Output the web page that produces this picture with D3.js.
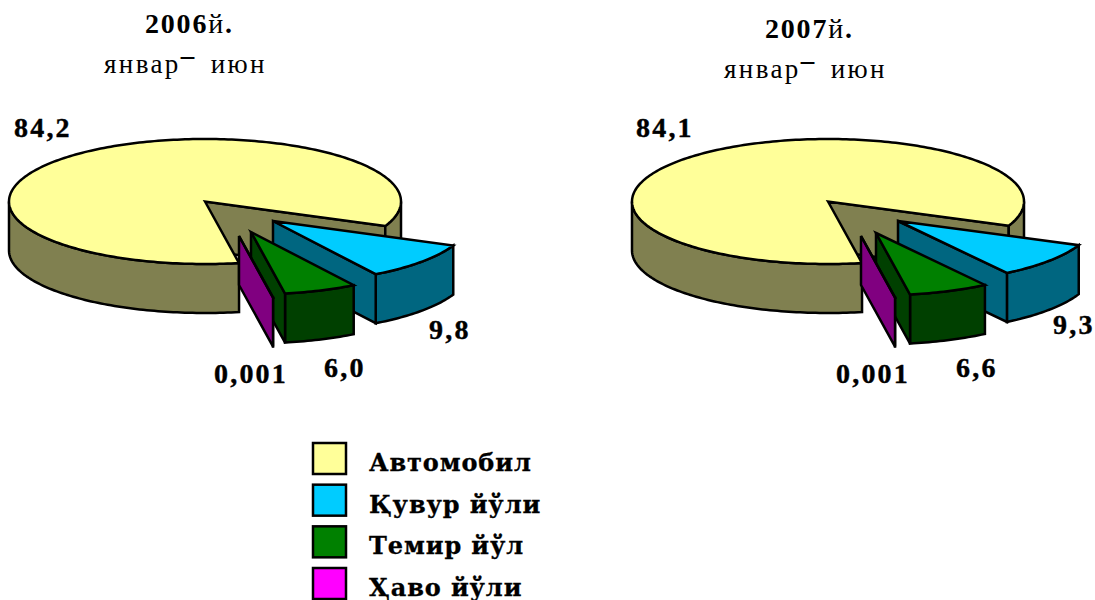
<!DOCTYPE html>
<html><head><meta charset="utf-8">
<script src="https://cdnjs.cloudflare.com/ajax/libs/d3/7.8.5/d3.min.js"></script>
<style>
html,body{margin:0;padding:0;background:#fff;overflow:hidden}
text{font-family:"Liberation Serif",serif;fill:#000}
.lab{font-weight:700;font-size:28px;letter-spacing:2.2px;stroke:#000;stroke-width:.4px}
.leg{font-family:"DejaVu Serif",serif;font-weight:700;font-size:24px;letter-spacing:.9px;stroke:#000;stroke-width:.3px}
.t1{font-weight:700;font-size:28px;letter-spacing:1.8px}
.t2{font-size:27px;letter-spacing:2.4px}
</style></head><body>
<svg id="c" width="1095" height="600"></svg>
<script>
const categories = ["Автомобил","Қувур йўли","Темир йўл","Ҳаво йўли"];
const values2006 = [84.2, 9.8, 6.0, 0.001];
const values2007 = [84.1, 9.3, 6.6, 0.001];
const labels2006 = ["84,2","9,8","6,0","0,001"];
const labels2007 = ["84,1","9,3","6,6","0,001"];
const topColors  = ["#FFFF99","#00CCFF","#008000","#800080"];
const sideColors = ["#808050","#006680","#004000","#800080"];
const legendColors = ["#FFFF99","#00CCFF","#008000","#FF00FF"];

const svg = d3.select("#c");
const rx = 196, ry = 62.5, depth = 49;
const pie = d3.pie().sort(null).startAngle(170*Math.PI/180).endAngle(530*Math.PI/180);
const line = d3.line();

function drawPie(cx, cy, values, offsets){
  const arcs = pie(values);
  const g = svg.append("g");
  const shape = (pts, fill) => g.append("path").attr("d", line(pts)+"Z").attr("fill", fill)
    .attr("stroke","#000").attr("stroke-width",2.5).attr("stroke-linejoin","miter");
  const pt = (a, ox, oy, dz=0) => [cx+ox+rx*Math.sin(a), cy+oy-ry*Math.cos(a)+dz];
  const sample = (a0,a1,ox,oy,dz=0) => {
    const n = Math.max(2, Math.ceil(Math.abs(a1-a0)/0.02));
    return d3.range(n+1).map(i => pt(a0+(a1-a0)*i/n,ox,oy,dz));
  };
  const outerWall = (a0,a1,ox,oy,fill) => {
    if (a1<=a0) return;
    shape([...sample(a0,a1,ox,oy), ...sample(a1,a0,ox,oy,depth)], fill);
  };
  const PI = Math.PI;
  arcs.forEach((d,i) => {
    const [ox,oy] = offsets[i];
    const c = [cx+ox, cy+oy];
    const side = sideColors[i], top = topColors[i];
    if (i===0){
      const e = pt(d.endAngle,ox,oy);
      shape([c, e, [e[0],e[1]+depth], [c[0],c[1]+depth]], side);
      outerWall(2.5*PI, d.endAngle, ox, oy, side);
      outerWall(d.startAngle, 1.5*PI, ox, oy, side);
    } else {
      outerWall(d.startAngle, d.endAngle, ox, oy, side);
      const e = pt(d.endAngle,ox,oy);
      shape([c, e, [e[0],e[1]+depth], [c[0],c[1]+depth]], side);
    }
    shape([c, ...sample(d.startAngle,d.endAngle,ox,oy)], top);
  });
}

drawPie(205, 201.5, values2006, [[0,0],[68,19.5],[46,30.5],[34,34.5]]);
drawPie(828, 201.5, values2007, [[0,0],[70,19.5],[48,31.5],[33,34.5]]);

const labelPos2006 = [[14,137],[429,339],[324,377],[214,383]];
const labelPos2007 = [[636,137],[1053,334],[956,377],[836,383]];
[[labels2006,labelPos2006],[labels2007,labelPos2007]].forEach(([ls,ps]) =>
  svg.append("g").selectAll("text").data(ls).join("text").attr("class","lab")
    .attr("x",(d,i)=>ps[i][0]).attr("y",(d,i)=>ps[i][1]).text(d=>d));

function title(x1,y1,year,x2,y2){
  const t = svg.append("text").attr("class","t1").attr("x",x1).attr("y",y1);
  t.append("tspan").text(year);
  t.append("tspan").attr("font-weight",400).text("й");
  t.append("tspan").text(".");
  const s = svg.append("text").attr("class","t2").attr("x",x2).attr("y",y2);
  s.append("tspan").text("январ");
  s.append("tspan").attr("dy",-9).attr("font-weight",700).text("–");
  s.append("tspan").attr("dy",9).attr("dx",14).text("июн");
}
title(145,33,"2006",104,73);
title(765,38,"2007",724,78);

const legendY = d3.scalePoint().domain(categories).range([443,568]);
const lg = svg.append("g").selectAll("g").data(categories).join("g")
  .attr("transform",d=>`translate(0,${legendY(d)})`);
lg.append("rect").attr("x",313).attr("y",0).attr("width",33).attr("height",31)
  .attr("fill",(d,i)=>legendColors[i]).attr("stroke","#000").attr("stroke-width",2.5);
lg.append("text").attr("class","leg").attr("x",369).attr("y",28).text(d=>d);
</script>
</body></html>
